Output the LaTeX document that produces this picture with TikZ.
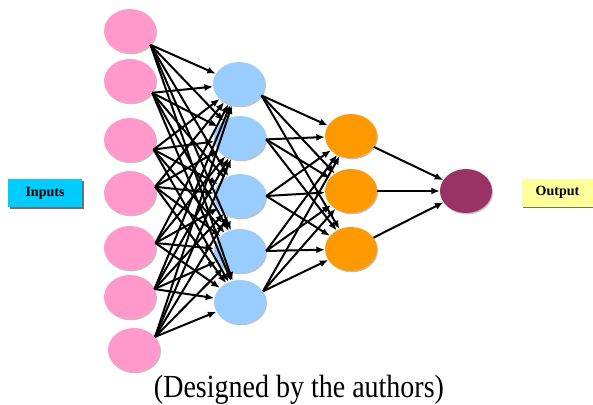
\documentclass[tikz,border=0pt]{standalone}
\usepackage{graphicx}
\usepackage{fontspec}
\setmainfont{Liberation Serif}
\usetikzlibrary{shapes.geometric,arrows.meta,shadows}
\definecolor{inpink}{HTML}{FF99CC}
\definecolor{hidblue}{HTML}{99CCFF}
\definecolor{hidorange}{HTML}{FF9900}
\definecolor{outmaroon}{HTML}{993366}
\definecolor{labcyan}{HTML}{00CCFF}
\definecolor{labyellow}{HTML}{FFFF99}
\tikzset{
  neuron/.style={ellipse, minimum width=52pt, minimum height=44pt, inner sep=0pt,
    draw=none, drop shadow={shadow xshift=1pt, shadow yshift=-1.3pt, fill=black, opacity=0.25}},
  inn/.style={neuron, fill=inpink},
  hid/.style={neuron, fill=hidblue},
  hidb/.style={neuron, fill=hidorange},
  outn/.style={neuron, fill=outmaroon},
  tag/.style={rectangle, inner sep=0pt, minimum height=28pt, font=\fontsize{14}{15}\selectfont\bfseries,
    drop shadow={shadow xshift=1.5pt, shadow yshift=-1.5pt, fill=black!70, opacity=0.8}},
  conn/.style={line width=2pt, -{Latex[length=8.5pt,width=7pt]}}
}
\begin{document}
\begin{tikzpicture}[x=1pt,y=-1pt]
\useasboundingbox (0,0) rectangle (593,404);
% input layer
\node[inn] (i1) at (130,31) {};
\node[inn] (i2) at (130,81) {};
\node[inn] (i3) at (130,140) {};
\node[inn] (i4) at (130,193) {};
\node[inn] (i5) at (130,248) {};
\node[inn] (i6) at (130,297) {};
\node[inn] (i7) at (134,350) {};
% first hidden layer
\node[hid] (h1) at (239,84) {};
\node[hid] (h2) at (240,138) {};
\node[hid] (h3) at (240,196) {};
\node[hid] (h4) at (240,251) {};
\node[hid] (h5) at (240,302) {};
% second hidden layer
\node[hidb] (g1) at (351,136) {};
\node[hidb] (g2) at (351,191) {};
\node[hidb] (g3) at (351,249) {};
% output neuron
\node[outn] (o) at (466,191) {};
% labels
\node[tag, fill=labcyan, minimum width=74pt] (lin) at (45,193) {Inputs};
\node[tag, fill=labyellow, minimum width=72pt] (lout) at (557.5,192.5) {Output};
% caption
\node[font=\fontsize{28}{30}\selectfont, anchor=base, inner sep=0pt] (cap) at (299,397) {\scalebox{1}[1.15]{(Designed by the authors)}};
% input -> first hidden
\foreach \s/\a in {i1/-34, i2/-28, i3/-22, i4/14, i5/11, i6/18, i7/32}{
  \foreach \t in {h1,h2,h3,h4,h5}{
    \draw[conn] (\s.\a) -- (\t);
  }
}
% first hidden -> second hidden
\foreach \s/\a in {h1/-27, h2/-3, h3/0, h4/0, h5/25}{
  \foreach \t in {g1,g2,g3}{
    \draw[conn] (\s.\a) -- (\t);
  }
}
% second hidden -> output
\foreach \s in {g1,g2,g3}{
  \draw[conn] (\s) -- (o);
}
\end{tikzpicture}
\end{document}
